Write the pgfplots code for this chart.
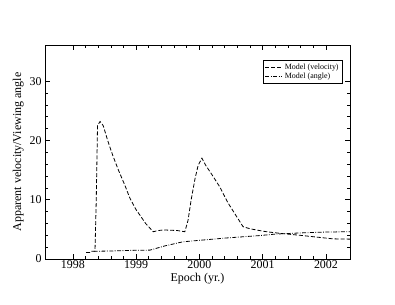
\documentclass[border=0pt]{standalone}
\usepackage{fontspec}
\setmainfont{Liberation Serif}
\usepackage{pgfplots}
\pgfplotsset{compat=1.18}
\begin{document}
\begin{tikzpicture}
\path[use as bounding box] (0,0) rectangle (395bp,305bp);
\begin{axis}[
  at={(45bp,46bp)}, anchor=south west,
  scale only axis, width=305bp, height=214bp,
  xmin=1997.56, xmax=2002.38, ymin=0, ymax=36.1,
  xtick={1998,1999,2000,2001,2002},
  ytick={0,10,20,30},
  minor x tick num=4, minor y tick num=4,
  tick align=inside, major tick length=5bp, minor tick length=3bp,
  tick style={black, line width=0.6pt},
  axis line style={line width=0.8pt},
  xticklabel style={/pgf/number format/1000 sep={}, yshift=1.5bp},
  /pgf/number format/assume math mode=true,
  ticklabel style={font=\fontsize{12}{14}\selectfont},
  label style={font=\fontsize{12}{14}\selectfont},
  xlabel={Epoch (yr.)}, ylabel={Apparent velocity/Viewing angle},
  xlabel style={yshift=3bp},
  ylabel style={yshift=-1bp},
  legend style={at={(0.975,0.93)}, anchor=north east, font=\fontsize{8}{9}\selectfont, draw=black, line width=0.5pt, inner sep=1.5pt, row sep=-1.5pt},
  legend cell align=left,
]
\addplot[black, line width=0.8pt, dash pattern=on 4pt off 2pt] coordinates {
(1998.21,1.1) (1998.28,1.1) (1998.29,1.3) (1998.35,1.3) (1998.37,10) (1998.39,22.5) (1998.43,23.2)
(1998.48,22.5) (1998.55,20) (1998.63,17.5) (1998.72,15) (1998.82,12.5) (1998.9,10.3)
(1999.0,8.3) (1999.06,7.4) (1999.15,6) (1999.27,4.6) (1999.35,4.8) (1999.43,4.9)
(1999.55,4.85) (1999.65,4.8) (1999.77,4.6) (1999.82,6.5) (1999.87,10) (1999.93,13.5)
(1999.98,15.8) (2000.04,17) (2000.1,15.8) (2000.2,14.2) (2000.32,12.2) (2000.45,9.5)
(2000.58,7.3) (2000.69,5.45) (2000.8,5.1) (2000.95,4.8) (2001.06,4.6) (2001.3,4.3)
(2001.59,4.0) (2001.85,3.7) (2002.11,3.4) (2002.38,3.35)
};
\addlegendentry{Model (velocity)}
\addplot[black, line width=0.8pt, dash pattern=on 4pt off 1.5pt on 0.8pt off 1.5pt] coordinates {
(1998.33,1.3) (1998.6,1.35) (1998.9,1.45) (1999.22,1.5) (1999.45,2.2) (1999.74,2.9)
(2000.0,3.15) (2000.43,3.55) (2000.95,3.95) (2001.2,4.2) (2001.6,4.4) (2002.0,4.55) (2002.38,4.6)
};
\addlegendentry{Model (angle)}
\end{axis}
\end{tikzpicture}
\end{document}
